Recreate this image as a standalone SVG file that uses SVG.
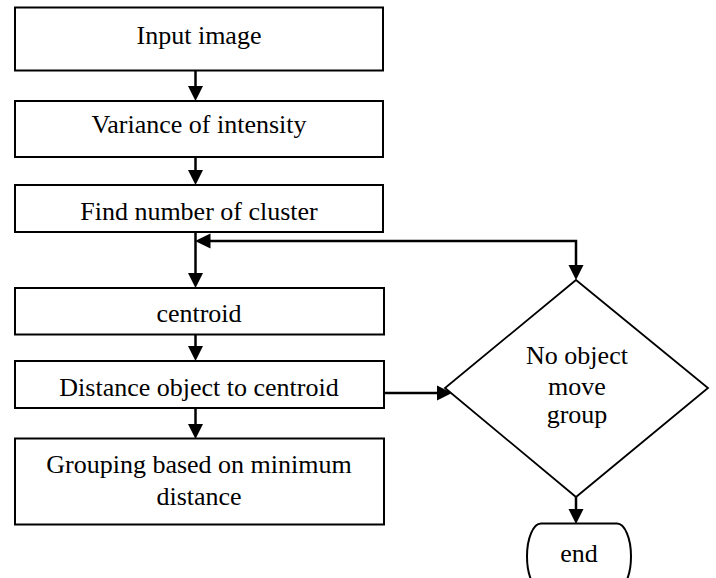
<svg xmlns="http://www.w3.org/2000/svg" width="716" height="578" viewBox="0 0 716 578">
<style>
.box{fill:#fff;stroke:#000;stroke-width:2}
.dia{fill:#fff;stroke:#000;stroke-width:1.8}
text{font-family:"Times New Roman",Times,"Liberation Serif","DejaVu Serif","Noto Serif",serif;font-size:26px;fill:#000;text-anchor:middle}
.ln{fill:none;stroke:#000;stroke-width:2.5}
.ah{fill:#000;stroke:none}
</style>
<rect width="716" height="578" fill="#fff"/>
<g id="connectors">
<line class="ln" x1="195.5" y1="71" x2="195.5" y2="88"/>
<polygon class="ah" points="188,86 203,86 195.5,101"/>
<line class="ln" x1="195.5" y1="157" x2="195.5" y2="172"/>
<polygon class="ah" points="188,170 203,170 195.5,185"/>
<line class="ln" x1="195.5" y1="232" x2="195.5" y2="274"/>
<polygon class="ah" points="188,273 203,273 195.5,288"/>
<polyline class="ln" points="208,241 576,241 576,267"/>
<polygon class="ah" points="195,241 210.5,233.5 210.5,248.5"/>
<polygon class="ah" points="568.5,265 583.5,265 576,280"/>
<line class="ln" x1="195.5" y1="335" x2="195.5" y2="348"/>
<polygon class="ah" points="188,346 203,346 195.5,361"/>
<line class="ln" x1="195.5" y1="408" x2="195.5" y2="425"/>
<polygon class="ah" points="188,424 203,424 195.5,439"/>
<line class="ln" x1="384" y1="393" x2="438" y2="393"/>
<polygon class="ah" points="437,385.5 452,393 437,400.5"/>
<line class="ln" x1="576" y1="497" x2="576" y2="510"/>
<polygon class="ah" points="568.5,509 583.5,509 576,524"/>
</g>
<g id="n_input">
<rect class="box" x="15" y="7.5" width="368" height="63"/>
<text x="199" y="44">Input image</text>
</g>
<g id="n_variance">
<rect class="box" x="15" y="101" width="368" height="56"/>
<text x="199" y="133">Variance of intensity</text>
</g>
<g id="n_find">
<rect class="box" x="15" y="185" width="368" height="47"/>
<text x="199" y="220">Find number of cluster</text>
</g>
<g id="n_centroid">
<rect class="box" x="15" y="288" width="369" height="46.5"/>
<text x="199" y="321.5">centroid</text>
</g>
<g id="n_distance">
<rect class="box" x="15" y="361" width="369" height="47"/>
<text x="199" y="395.5">Distance object to centroid</text>
</g>
<g id="n_grouping">
<rect class="box" x="15" y="438.5" width="369" height="86"/>
<text x="199" y="472.5">Grouping based on minimum</text>
<text x="199" y="505">distance</text>
</g>
<g id="n_decision">
<polygon class="dia" points="576,280 708,388 576,497 445,388"/>
<text x="577" y="364">No object</text>
<text x="577" y="395">move</text>
<text x="577" y="423">group</text>
</g>
<g id="n_end">
<rect class="box" x="527" y="523.5" width="104" height="66" rx="14" ry="33"/>
<text x="579" y="562">end</text>
</g>
</svg>
